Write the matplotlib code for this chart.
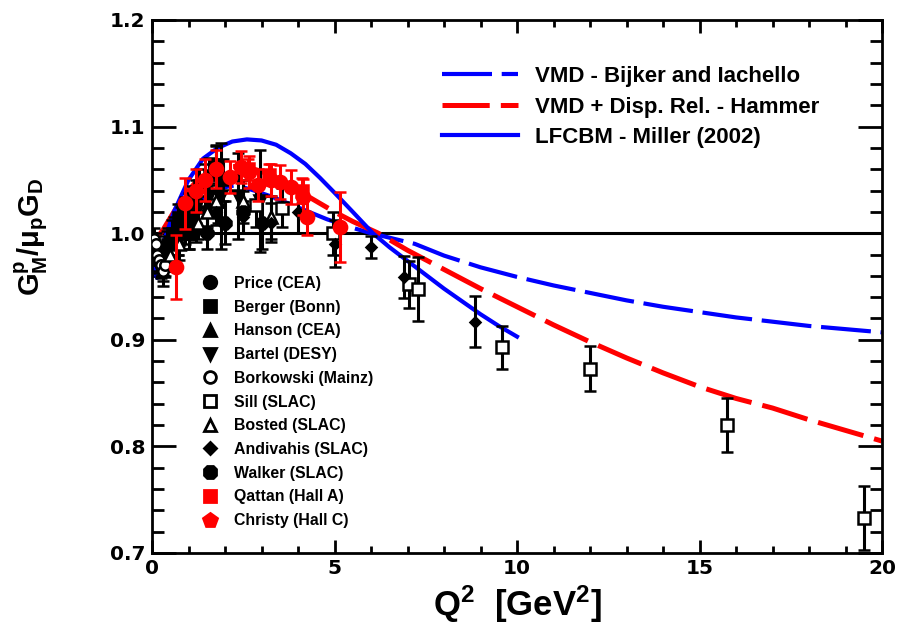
import matplotlib
matplotlib.use("Agg")
import matplotlib.pyplot as plt
from matplotlib.lines import Line2D
from matplotlib.ticker import MultipleLocator, FormatStrFormatter

plt.rcParams['font.family'] = ['Liberation Sans', 'DejaVu Sans']
plt.rcParams['font.weight'] = 'bold'
plt.rcParams['mathtext.fontset'] = 'custom'
plt.rcParams['mathtext.rm'] = 'Liberation Sans:bold'
plt.rcParams['mathtext.bf'] = 'Liberation Sans:bold'
plt.rcParams['mathtext.it'] = 'Liberation Sans:bold'
plt.rcParams['lines.scale_dashes'] = False

# ---------------- theory curves ----------------
miller_q2 = [0.02, 0.14, 0.3, 0.6, 1.0, 1.4, 1.8, 2.2, 2.6, 3.0, 3.4, 3.8, 4.2, 4.6, 5.0,
             5.5, 6.05, 6.5, 7.0, 7.5, 8.0, 8.5, 9.0, 9.5, 10.0]
miller_r = [0.972, 0.958, 0.99, 1.02, 1.05, 1.07, 1.08, 1.086, 1.088, 1.087, 1.083, 1.075,
            1.065, 1.052, 1.038, 1.02, 1.0, 0.987, 0.974, 0.961, 0.948, 0.936, 0.924, 0.913, 0.903]

bijker_q2 = [0.02, 0.3, 0.6, 1.0, 1.4, 1.8, 2.3, 2.8, 3.3, 3.8, 4.3, 4.8, 5.4, 6.0, 6.6, 7.2,
             8, 9, 10, 11, 12, 13, 14, 15, 16, 17, 18, 19, 20]
bijker_r = [0.985, 0.985, 1.005, 1.022, 1.033, 1.042, 1.045, 1.04, 1.034, 1.027, 1.02, 1.013,
            1.006, 1.0, 0.995, 0.99, 0.979, 0.968, 0.959, 0.951, 0.944, 0.937, 0.931, 0.926,
            0.921, 0.917, 0.913, 0.910, 0.907]

hammer_q2 = [0.02, 0.3, 0.6, 0.9, 1.2, 1.6, 2.0, 2.5, 3.0, 3.5, 4.0, 4.5, 5.0, 5.5, 6.2, 7.0,
             8.0, 9.0, 10, 11, 12, 13, 14, 15, 16, 17, 18, 19, 20]
hammer_r = [0.99, 1.003, 1.02, 1.036, 1.048, 1.057, 1.062, 1.063, 1.058, 1.05, 1.04, 1.03,
            1.02, 1.011, 1.0, 0.984, 0.966, 0.948, 0.931, 0.914, 0.898, 0.883, 0.869, 0.856,
            0.845, 0.836, 0.825, 0.815, 0.805]

# ---------------- data ----------------
price_q2 = [0.15, 0.25, 0.35, 0.45, 0.6, 0.8, 1.0, 1.2, 1.45, 1.75]
price_r = [0.975, 0.97, 0.985, 0.99, 1.0, 1.01, 1.02, 1.03, 1.045, 1.06]
price_e = [0.012, 0.012, 0.012, 0.015, 0.015, 0.015, 0.018, 0.02, 0.02, 0.022]

berger_q2 = [0.4, 0.55, 0.7, 0.9, 1.1, 1.3, 1.55, 1.75, 1.95]
berger_r = [0.99, 1.0, 1.015, 1.02, 1.03, 1.045, 1.055, 1.065, 1.05]
berger_e = [0.012, 0.012, 0.012, 0.014, 0.014, 0.015, 0.016, 0.018, 0.02]

hanson_q2 = [0.3, 0.5, 0.7, 0.9, 1.2, 1.5, 1.8]
hanson_r = [0.965, 0.98, 0.995, 1.005, 1.01, 1.025, 1.03]
hanson_e = [0.015, 0.015, 0.015, 0.015, 0.018, 0.018, 0.02]

bartel_q2 = [0.7, 1.0, 1.2, 1.55, 1.9, 2.35, 2.95]
bartel_r = [0.995, 1.01, 1.02, 1.035, 1.035, 1.035, 1.03]
bartel_e = [0.015, 0.015, 0.018, 0.02, 0.05, 0.04, 0.048]

bork_q2 = [0.05, 0.1, 0.15, 0.2, 0.25, 0.3, 0.35]
bork_r = [0.995, 0.99, 0.98, 0.975, 0.97, 0.965, 0.97]
bork_e = [0.01, 0.01, 0.01, 0.01, 0.01, 0.01, 0.01]

sill_q2 = [2.85, 3.55, 4.95, 7.05, 7.3, 9.6, 12.0, 15.75, 19.5]
sill_r = [1.026, 1.024, 1.0, 0.952, 0.948, 0.893, 0.873, 0.82, 0.733]
sill_e = [0.02, 0.018, 0.02, 0.022, 0.03, 0.02, 0.021, 0.025, 0.03]

bosted_q2 = [0.5, 0.75, 1.0, 1.25, 1.5, 1.75, 2.5, 3.25]
bosted_r = [0.98, 0.99, 1.0, 1.01, 1.02, 1.03, 1.03, 1.015]
bosted_e = [0.015, 0.015, 0.015, 0.015, 0.015, 0.015, 0.02, 0.02]

andiv_q2 = [1.75, 2.5, 3.25, 4.0, 5.0, 6.0, 6.9, 8.85]
andiv_r = [1.02, 1.015, 1.01, 1.02, 0.99, 0.987, 0.959, 0.917]
andiv_e = [0.012, 0.015, 0.018, 0.02, 0.022, 0.01, 0.02, 0.024]

walker_q2 = [1.0, 1.5, 2.0, 2.5, 3.0]
walker_r = [1.0, 1.0, 1.01, 1.02, 1.01]
walker_e = [0.015, 0.015, 0.02, 0.02, 0.025]

qattan_q2 = [2.64, 3.2, 4.1]
qattan_r = [1.06, 1.055, 1.04]
qattan_e = [0.01, 0.01, 0.012]

christy_q2 = [0.65, 0.9, 1.2, 1.45, 1.75, 2.15, 2.45, 2.65, 2.9, 3.25, 3.5, 3.8, 4.15, 4.25, 5.15]
christy_r = [0.968, 1.028, 1.04, 1.05, 1.06, 1.053, 1.062, 1.057, 1.045, 1.05, 1.048, 1.043,
             1.034, 1.015, 1.006]
christy_e = [0.03, 0.024, 0.02, 0.02, 0.018, 0.015, 0.015, 0.015, 0.015, 0.015, 0.016, 0.016,
             0.017, 0.017, 0.033]

data_labels = ['Price (CEA)', 'Berger (Bonn)', 'Hanson (CEA)', 'Bartel (DESY)',
               'Borkowski (Mainz)', 'Sill (SLAC)', 'Bosted (SLAC)', 'Andivahis (SLAC)',
               'Walker (SLAC)', 'Qattan (Hall A)', 'Christy (Hall C)']
theory_labels = ['VMD - Bijker and Iachello', 'VMD + Disp. Rel. - Hammer', 'LFCBM - Miller (2002)']

BLUE = '#0000ff'
RED = '#ff0000'

fig = plt.figure(figsize=(9, 6.34), dpi=100)
ax = fig.add_axes([152 / 900, 1 - 553 / 634, 730 / 900, 533 / 634])

# reference line
ax.axhline(1.0, color='black', lw=2.2, zorder=1)

# curves
l_bij, = ax.plot(bijker_q2, bijker_r, color=BLUE, lw=3.0, dashes=(36, 7), zorder=2)
l_ham, = ax.plot(hammer_q2, hammer_r, color=RED, lw=3.6, dashes=(34, 8), zorder=2)
l_mil, = ax.plot(miller_q2, miller_r, color=BLUE, lw=3.0, zorder=2)

series = [
    (price_q2, price_r, price_e, 'o', 'black', 'black', 8),
    (berger_q2, berger_r, berger_e, 's', 'black', 'black', 7.5),
    (hanson_q2, hanson_r, hanson_e, '^', 'black', 'black', 8),
    (bartel_q2, bartel_r, bartel_e, 'v', 'black', 'black', 8),
    (bork_q2, bork_r, bork_e, 'o', 'black', 'white', 7.5),
    (sill_q2, sill_r, sill_e, 's', 'black', 'white', 9),
    (bosted_q2, bosted_r, bosted_e, '^', 'black', 'white', 8),
    (andiv_q2, andiv_r, andiv_e, 'D', 'black', 'black', 5.5),
    (walker_q2, walker_r, walker_e, '8', 'black', 'black', 9),
    (qattan_q2, qattan_r, qattan_e, 's', RED, RED, 8.5),
    (christy_q2, christy_r, christy_e, 'o', RED, RED, 9.5),
]
handles = []
legend_markers = ['o', 's', '^', 'v', 'o', 's', '^', 'D', '8', 's', 'p']
legend_ms = [9, 8.5, 9, 9, 8.5, 8.5, 9, 6, 10, 9, 10]
for (x, y, e, m, ec, fc, ms), lm, lms in zip(series, legend_markers, legend_ms):
    z = 4 if ec == RED else 3
    ax.errorbar(x, y, yerr=e, fmt=m, color=ec, mfc=fc, mec=ec, ms=ms, mew=1.8,
                elinewidth=2.2, capsize=4, capthick=2.2, zorder=z)
    handles.append(Line2D([], [], ls='none', marker=lm, color=ec, mfc=fc, mec=ec,
                          ms=lms, mew=2.0))

ax.set_xlim(0, 20)
ax.set_ylim(0.7, 1.2)
ax.xaxis.set_major_locator(MultipleLocator(5))
ax.xaxis.set_minor_locator(MultipleLocator(1))
ax.yaxis.set_major_locator(MultipleLocator(0.1))
ax.yaxis.set_minor_locator(MultipleLocator(0.02))
ax.yaxis.set_major_formatter(FormatStrFormatter('%.1f'))
ax.tick_params(axis='both', which='both', direction='in', top=True, right=True, width=2)
ax.tick_params(axis='y', which='major', length=17, pad=5)
ax.tick_params(axis='y', which='minor', length=8.5)
ax.tick_params(axis='x', which='major', length=9.5, pad=4)
ax.tick_params(axis='x', which='minor', length=5)
for lab in ax.get_xticklabels() + ax.get_yticklabels():
    lab.set_fontweight('bold')
    lab.set_fontfamily(['DejaVu Sans'])
    lab.set_fontsize(14.5)
for sp in ax.spines.values():
    sp.set_linewidth(2)

ax.set_xlabel(r'Q$^{2}$  [GeV$^{2}$]', fontsize=25, fontweight='bold', labelpad=4)
ax.set_ylabel(r'G$^{p}_{M}$/$\mu_{p}$G$_{D}$', fontsize=21, fontweight='bold')
ax.yaxis.set_label_coords(-0.14, (553 - 237) / 533)

leg1 = ax.legend(handles, data_labels, loc='upper left',
                 bbox_to_anchor=((198 - 152) / 730, (553 - 276) / 533),
                 frameon=False, fontsize=11.4, handlelength=1.5, handletextpad=0.78,
                 labelspacing=0.55, borderpad=0, borderaxespad=0)
ax.add_artist(leg1)

ax.legend([l_bij, l_ham, l_mil], theory_labels, loc='upper left',
          bbox_to_anchor=((442 - 152) / 730, (553 - 66) / 533),
          frameon=False, fontsize=16, handlelength=3.42, handletextpad=0.77,
          labelspacing=0.43, borderpad=0, borderaxespad=0)

fig.savefig('out.png', dpi=100)
